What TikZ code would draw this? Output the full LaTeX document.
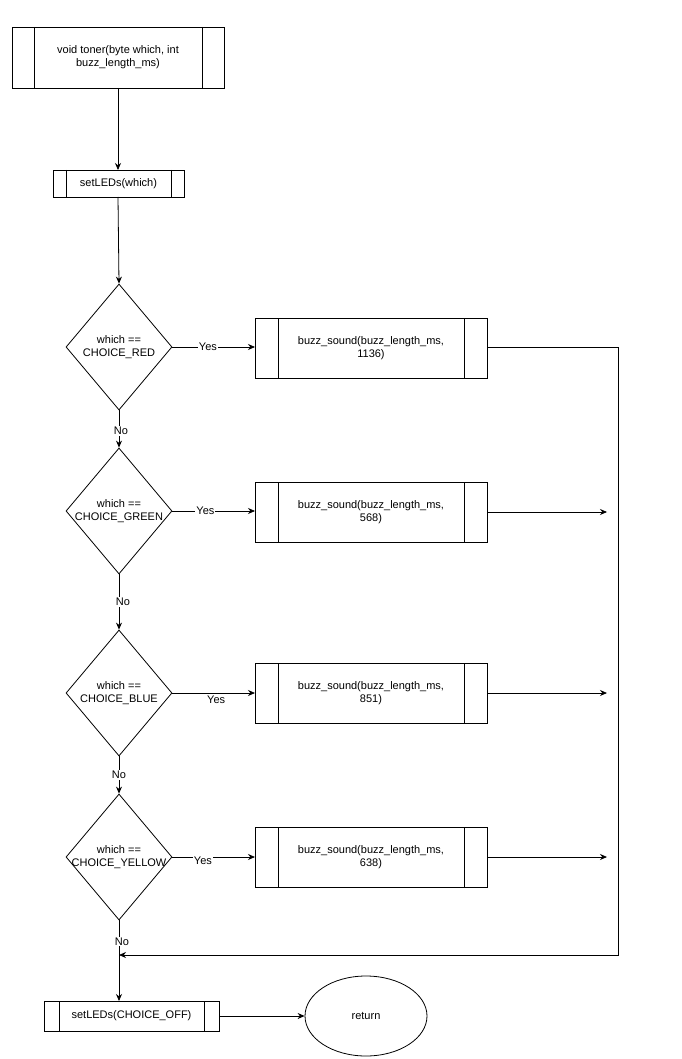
\documentclass[tikz,border=0pt]{standalone}
\usepackage{fontspec}
\setmainfont{Liberation Sans}
\usetikzlibrary{shapes.geometric,arrows.meta}
\begin{document}
\begin{tikzpicture}[x=1pt,y=-1pt,font=\fontsize{11}{13}\selectfont,
  line width=0.8pt, >={Stealth[length=7pt,width=6pt]},
  lbl/.style={fill=white,inner sep=1pt},
  dia/.style={diamond,draw,minimum width=106pt,minimum height=126pt,inner sep=0pt,align=center,aspect=0.84},
  box/.style={draw,align=center}]
\useasboundingbox (0,0) rectangle (681,1059);
\newcommand\subproc[6]{% name, x1,y1,x2,y2, inset
  \draw (#2,#3) rectangle (#4,#5);
  \draw (#2+#6,#3) -- (#2+#6,#5) (#4-#6,#3) -- (#4-#6,#5);
  \coordinate (#1) at ({(#2+#4)/2},{(#3+#5)/2});}
\subproc{start}{12}{27}{224}{88}{22}
\node[align=center] at (start) {void toner(byte which, int\\buzz\_length\_ms)};
\coordinate (startb) at (118,88);
\subproc{led}{53}{170}{184}{197}{13}
\node at (led) {setLEDs(which)};
\coordinate (ledt) at (118,170); \coordinate (ledb) at (118,197);
\node[diamond,draw,minimum width=106pt,minimum height=126pt,inner sep=0pt,align=center] (d1) at (119,347) {};
\node[align=center] at (d1) {which ==\\CHOICE\_RED};
\node[diamond,draw,minimum width=106pt,minimum height=126pt,inner sep=0pt] (d2) at (119,511) {};
\node[align=center] at (d2) {which ==\\CHOICE\_GREEN};
\node[diamond,draw,minimum width=106pt,minimum height=126pt,inner sep=0pt] (d3) at (119,693) {};
\node[align=center] at (d3) {which ==\\CHOICE\_BLUE};
\node[diamond,draw,minimum width=106pt,minimum height=126pt,inner sep=0pt] (d4) at (119,857) {};
\node[align=center] at (d4) {which ==\\CHOICE\_YELLOW};
\subproc{b1}{255}{318}{487}{378}{23}
\node[align=center] at (b1) {buzz\_sound(buzz\_length\_ms,\\1136)};
\subproc{b2}{255}{482}{487}{542}{23}
\node[align=center] at (b2) {buzz\_sound(buzz\_length\_ms,\\568)};
\subproc{b3}{255}{663}{487}{723}{23}
\node[align=center] at (b3) {buzz\_sound(buzz\_length\_ms,\\851)};
\subproc{b4}{255}{827}{487}{887}{23}
\node[align=center] at (b4) {buzz\_sound(buzz\_length\_ms,\\638)};
\subproc{off}{44}{1001}{219}{1031}{15}
\node at (off) {setLEDs(CHOICE\_OFF)};
\node[ellipse,draw,minimum width=122pt,minimum height=80pt] (ret) at (366,1016) {return};
\coordinate (offt) at (119,1001); \coordinate (offr) at (219,1016);
\coordinate (join) at (119,955);
\draw[->] (startb) -- (ledt);
\draw[->] (ledb) -- (d1.north);
\draw[->] (d1.east) -- node[lbl,pos=0.43]{Yes} (255,347);
\draw[->] (d2.east) -- node[lbl,pos=0.4]{Yes} (255,511);
\draw[->] (d3.east) -- node[lbl,pos=0.53,yshift=-7pt]{Yes} (255,693);
\draw[->] (d4.east) -- node[lbl,pos=0.37,yshift=-4pt]{Yes} (255,857);
\draw[->] (d1.south) -- node[lbl,pos=0.55,xshift=2pt]{No} (d2.north);
\draw[->] (d2.south) -- node[lbl,pos=0.5,xshift=4pt]{No} (d3.north);
\draw[->] (d3.south) -- node[lbl,pos=0.5]{No} (d4.north);
\draw[->] (d4.south) -- node[lbl,pos=0.26,xshift=3pt]{No} (offt);
\draw[->] (487,347) -- (618,347) -- (618,955) -- (join);
\draw[->] (487,512) -- (607,512);
\draw[->] (487,693) -- (607,693);
\draw[->] (487,857) -- (607,857);
\draw[->] (offr) -- (ret.west);
\end{tikzpicture}
\end{document}
